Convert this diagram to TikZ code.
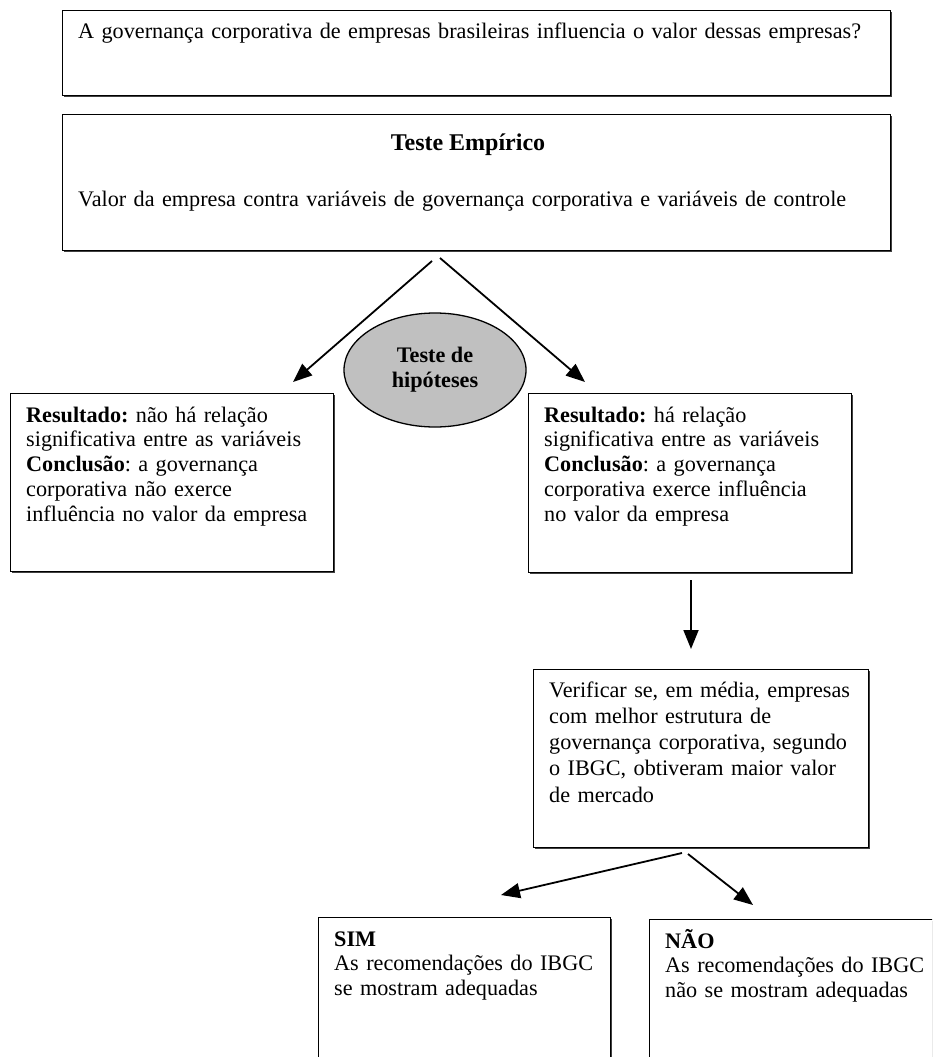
\documentclass[tikz,border=0pt]{standalone}
\usepackage{fontspec}
\setmainfont{Liberation Serif}
\usetikzlibrary{arrows.meta,shapes.geometric,shadows}
\definecolor{hipfill}{RGB}{192,192,192}
\frenchspacing
\tikzset{
  boxnode/.style={draw=black, fill=white, line width=1.4pt, rectangle, inner sep=0pt, anchor=north west,
    drop shadow={shadow xshift=1.6pt, shadow yshift=-1.6pt, fill=black!75, opacity=1}},
  txt/.style={anchor=base west, align=left, inner sep=0pt, text width=#1,
    font=\fontsize{22.2}{24.8}\selectfont},
  txtwide/.style={anchor=base west, align=left, inner sep=0pt, text width=#1,
    font=\fontsize{22.2}{26.3}\selectfont},
  conn/.style={line width=1.8pt, -{Triangle[length=19pt,width=15pt]}},
  hipnode/.style={ellipse, draw=black, line width=1.3pt, fill=hipfill, inner sep=0pt,
    align=center, font=\fontsize{22.2}{25}\selectfont\bfseries},
}
\begin{document}
\begin{tikzpicture}[x=1pt,y=-1pt]
\useasboundingbox (0,0) rectangle (932,1057);
\fill[white] (0,0) rectangle (932,1057);
\begin{scope}
\clip (0,0) rectangle (932,1057);
% boxes
\node[boxnode, minimum width=828pt, minimum height=85pt] (b1) at (62,10) {};
\node[boxnode, minimum width=828pt, minimum height=136pt] (b2) at (62,114) {};
\node[boxnode, minimum width=323pt, minimum height=178pt] (bl) at (10,393) {};
\node[boxnode, minimum width=323pt, minimum height=179pt] (br) at (528,393) {};
\node[boxnode, minimum width=335pt, minimum height=178pt] (bv) at (533,669) {};
\node[boxnode, minimum width=292pt, minimum height=220pt] (bs) at (318,917) {};
\node[boxnode, minimum width=350pt, minimum height=220pt] (bn) at (649,919) {};
% ellipse
\node[hipnode, minimum width=182pt, minimum height=114pt] (hip) at (435,370) {Teste de\\hipóteses};
% texts
\node[txt=820pt] (t1) at (78,39) {A governança corporativa de empresas brasileiras influencia o valor dessas empresas?};
\node[anchor=base, inner sep=0pt, font=\fontsize{24}{28}\selectfont\bfseries] (t2h) at (468,150) {Teste Empírico};
\node[txt=820pt] (t2) at (78,206) {Valor da empresa contra variáveis de governança corporativa e variáveis de controle};
\node[txt=320pt] (tl) at (26,422) {\textbf{Resultado:} não há relação\\significativa entre as variáveis\\\textbf{Conclusão}: a governança\\corporativa não exerce\\influência no valor da empresa};
\node[txt=320pt] (tr) at (544,422) {\textbf{Resultado:} há relação\\significativa entre as variáveis\\\textbf{Conclusão}: a governança\\corporativa exerce influência\\no valor da empresa};
\node[txtwide=330pt] (tv) at (549,697) {Verificar se, em média, empresas\\com melhor estrutura de\\governança corporativa, segundo\\o IBGC, obtiveram maior valor\\de mercado};
\node[txt=300pt] (ts) at (334,946) {\textbf{SIM}\\As recomendações do IBGC\\se mostram adequadas};
\node[txt=300pt] (tn) at (665,948) {\textbf{NÃO}\\As recomendações do IBGC\\não se mostram adequadas};
% connectors
\coordinate (a1s) at (432,261); \coordinate (a1e) at (293,382);
\coordinate (a2s) at (440,258); \coordinate (a2e) at (585,382);
\coordinate (a3s) at (691,580); \coordinate (a3e) at (691,649);
\coordinate (a4s) at (682,853); \coordinate (a4e) at (501,895);
\coordinate (a5s) at (688,854); \coordinate (a5e) at (753,905);
\draw[conn] (a1s) -- (a1e);
\draw[conn] (a2s) -- (a2e);
\draw[conn] (a3s) -- (a3e);
\draw[conn] (a4s) -- (a4e);
\draw[conn] (a5s) -- (a5e);
\end{scope}
\end{tikzpicture}
\end{document}
